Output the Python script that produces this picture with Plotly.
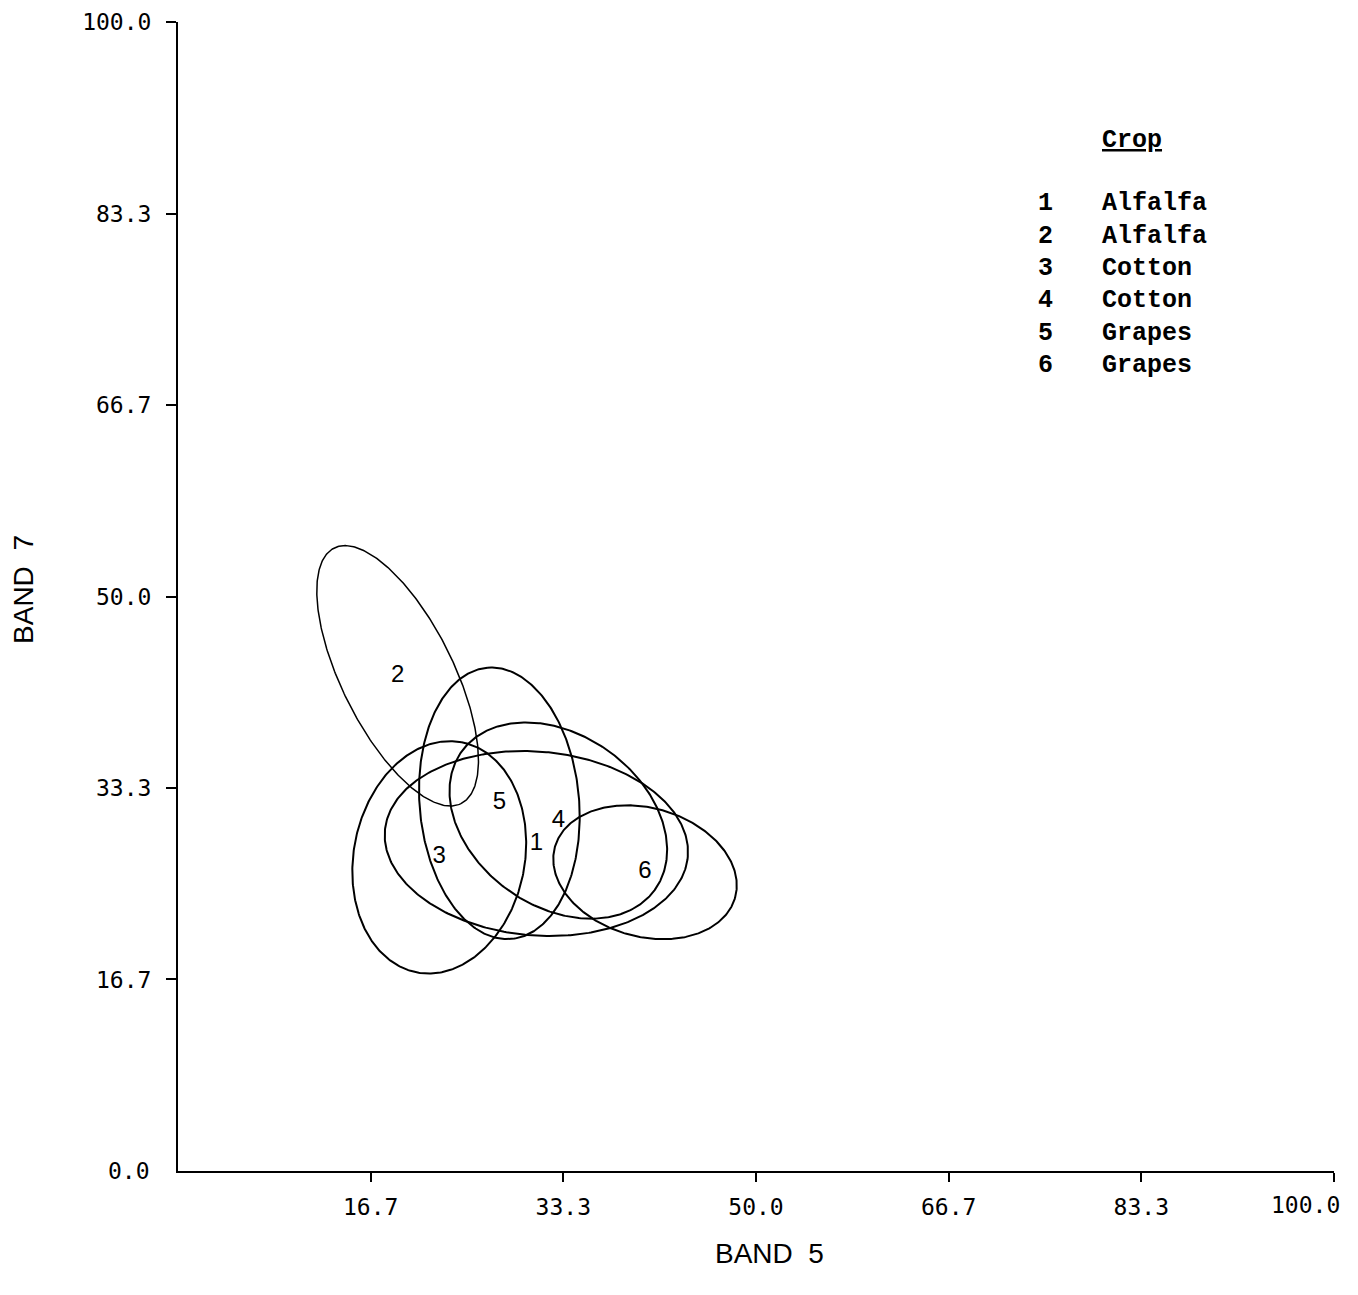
import numpy as np
import plotly.graph_objects as go

# ---- data ----
crop_ids = ["1", "2", "3", "4", "5", "6"]
crop_names = ["Alfalfa", "Alfalfa", "Cotton", "Cotton", "Grapes", "Grapes"]
center_band5 = [31.0, 19.0, 22.6, 32.9, 27.8, 40.4]
center_band7 = [28.5, 43.1, 27.3, 30.5, 32.0, 26.0]
semi_major = [13.15, 12.4, 10.2, 10.3, 11.85, 8.1]
semi_minor = [8.0, 4.85, 7.4, 7.45, 6.9, 5.6]
tilt_deg = [-5.0, -63.8, 79.0, -36.0, 95.0, -16.0]

tick_values = [16.67, 33.33, 50, 66.67, 83.33, 100]
y_tick_labels = ["16.7", "33.3", "50.0", "66.7", "83.3", "100.0"]
x_tick_labels = ["16.7", "33.3", "50.0", "66.7", "83.3", ""]

# ---- styles ----
line_w = {"2": 1.5}
default_w = 2.0

fig = go.Figure()
t = np.linspace(0, 2 * np.pi, 400)
for cid, cx, cy, a, b, th in zip(crop_ids, center_band5, center_band7,
                                 semi_major, semi_minor, tilt_deg):
    r = np.deg2rad(th)
    xs = cx + a * np.cos(t) * np.cos(r) - b * np.sin(t) * np.sin(r)
    ys = cy + a * np.cos(t) * np.sin(r) + b * np.sin(t) * np.cos(r)
    fig.add_trace(go.Scatter(x=xs, y=ys, mode="lines",
                             line=dict(color="black", width=line_w.get(cid, default_w)),
                             hoverinfo="skip", showlegend=False))

fig.add_trace(go.Scatter(x=center_band5, y=center_band7, mode="text", text=crop_ids,
                         textfont=dict(family="Liberation Sans", size=24, color="black"),
                         showlegend=False, hoverinfo="skip"))

tick_font = dict(family="DejaVu Sans Mono", size=23, color="black")
fig.update_xaxes(range=[0, 100], showline=True, linecolor="black", linewidth=2,
                 ticks="outside", ticklen=9, tickwidth=1.5, tickcolor="black",
                 tickvals=tick_values, ticktext=x_tick_labels, tickfont=tick_font,
                 ticklabelstandoff=5, showgrid=False, zeroline=False, automargin=False)
fig.update_yaxes(range=[0, 100], showline=True, linecolor="black", linewidth=2,
                 ticks="outside", ticklen=10, tickwidth=1.5, tickcolor="black",
                 tickvals=tick_values, ticktext=y_tick_labels, tickfont=tick_font,
                 ticklabelstandoff=10, showgrid=False, zeroline=False, automargin=False)

# axis end labels
fig.add_annotation(x=100, xref="x", y=0, yref="paper", text="100.0", showarrow=False,
                   xanchor="right", yanchor="middle", xshift=8, yshift=-34, font=tick_font)
fig.add_annotation(x=0, xref="paper", y=0, yref="y", text="0.0", showarrow=False,
                   xanchor="right", yanchor="middle", xshift=-26, font=tick_font)

# axis titles
title_font = dict(family="Liberation Sans", size=28, color="black")
fig.add_annotation(x=0.512, y=-0.0714, xref="paper", yref="paper", showarrow=False,
                   xanchor="center", yanchor="middle", text="BAND  5", font=title_font)
fig.add_annotation(x=-0.1332, y=0.5057, xref="paper", yref="paper", showarrow=False,
                   xanchor="center", yanchor="middle", text="BAND  7", textangle=-90,
                   font=title_font)

# crop key
key_font = dict(family="Liberation Mono", size=25, color="black", weight="bold")
fig.add_annotation(x=0.798, y=0.8973, xref="paper", yref="paper", showarrow=False,
                   xanchor="left", yanchor="middle",
                   text="<span style='text-decoration:underline'>Crop</span>", font=key_font)
row_y0 = 0.8417
row_dy = 0.0281
for i, (cid, name) in enumerate(zip(crop_ids, crop_names)):
    y = row_y0 - i * row_dy
    fig.add_annotation(x=0.75, y=y, xref="paper", yref="paper", showarrow=False,
                       xanchor="center", yanchor="middle", text=cid, font=key_font)
    fig.add_annotation(x=0.798, y=y, xref="paper", yref="paper", showarrow=False,
                       xanchor="left", yanchor="middle", text=name, font=key_font)

# page body has an 8px margin, so the figure is 8px smaller and margins shifted
fig.update_layout(width=1350, height=1287, margin=dict(l=170, r=24, t=14, b=124),
                  paper_bgcolor="white", plot_bgcolor="white", showlegend=False)

fig.write_html("out.html")
